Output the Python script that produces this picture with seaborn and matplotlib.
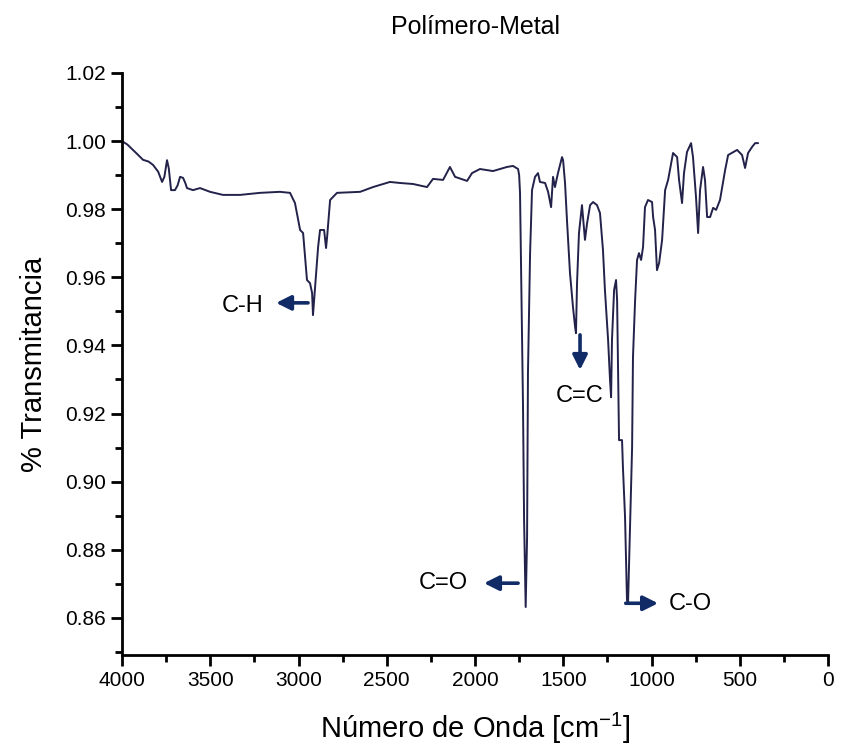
import matplotlib
matplotlib.use("Agg")
import matplotlib.pyplot as plt
from matplotlib.ticker import MultipleLocator, FormatStrFormatter
import seaborn as sns
import pandas as pd

# FTIR spectrum of the polymer-metal sample (wavenumber in cm^-1, fractional transmittance)
wavenumber = [
    4000, 3970, 3938, 3910, 3881, 3850, 3824, 3795, 3773, 3760, 3745, 3735, 3722, 3700,
    3685, 3671, 3654, 3640, 3632, 3598, 3558, 3501, 3428, 3331, 3218, 3105, 3048, 3020,
    2991, 2974, 2952, 2935, 2923, 2918, 2906, 2889, 2878, 2855, 2844, 2838, 2821, 2782,
    2651, 2578, 2482, 2425, 2351, 2272, 2238, 2181, 2142, 2113, 2045, 2017, 1972, 1898,
    1819, 1785, 1756, 1750, 1745, 1739, 1728, 1722, 1713, 1705, 1700, 1688, 1677, 1660,
    1643, 1632, 1603, 1586, 1569, 1558, 1547, 1530, 1507, 1501, 1490, 1479, 1462, 1445,
    1433, 1428, 1422, 1411, 1394, 1388, 1377, 1365, 1348, 1331, 1309, 1292, 1275, 1264,
    1246, 1235, 1229, 1224, 1212, 1201, 1195, 1184, 1167, 1162, 1150, 1139, 1133, 1122,
    1110, 1105, 1093, 1082, 1071, 1059, 1048, 1037, 1020, 997, 991, 980, 969, 957,
    940, 923, 906, 878, 855, 844, 827, 816, 799, 776, 765, 748, 736, 725,
    708, 697, 685, 668, 651, 634, 612, 583, 566, 515, 487, 470, 453, 430,
    413, 396,
]
transmittance = [
    1.0000, 0.9990, 0.9974, 0.9960, 0.9945, 0.9940, 0.9930, 0.9910, 0.9880, 0.9895, 0.9944, 0.9920, 0.9856, 0.9856,
    0.9870, 0.9895, 0.9892, 0.9875, 0.9862, 0.9856, 0.9862, 0.9851, 0.9842, 0.9842, 0.9848, 0.9851, 0.9848, 0.9818,
    0.9739, 0.9730, 0.9592, 0.9583, 0.9554, 0.9489, 0.9572, 0.9689, 0.9739, 0.9739, 0.9686, 0.9718, 0.9827, 0.9848,
    0.9851, 0.9865, 0.9880, 0.9877, 0.9874, 0.9865, 0.9889, 0.9886, 0.9924, 0.9895, 0.9883, 0.9906, 0.9918, 0.9912,
    0.9924, 0.9927, 0.9918, 0.9900, 0.9848, 0.9630, 0.9219, 0.8887, 0.8632, 0.8837, 0.9319, 0.9671, 0.9856, 0.9895,
    0.9906, 0.9880, 0.9877, 0.9851, 0.9806, 0.9895, 0.9865, 0.9906, 0.9953, 0.9944, 0.9877, 0.9768, 0.9613, 0.9513,
    0.9454, 0.9436, 0.9583, 0.9730, 0.9812, 0.9777, 0.9710, 0.9759, 0.9812, 0.9821, 0.9812, 0.9789, 0.9680, 0.9563,
    0.9416, 0.9298, 0.9248, 0.9416, 0.9563, 0.9592, 0.9533, 0.9122, 0.9122, 0.9043, 0.8896, 0.8652, 0.8643, 0.8858,
    0.9102, 0.9366, 0.9533, 0.9651, 0.9671, 0.9651, 0.9689, 0.9806, 0.9827, 0.9821, 0.9777, 0.9739, 0.9621, 0.9642,
    0.9710, 0.9856, 0.9886, 0.9965, 0.9953, 0.9886, 0.9818, 0.9906, 0.9968, 0.9994, 0.9953, 0.9836, 0.9730, 0.9856,
    0.9924, 0.9886, 0.9777, 0.9777, 0.9804, 0.9798, 0.9827, 0.9915, 0.9959, 0.9974, 0.9959, 0.9921, 0.9965, 0.9983,
    0.9994, 0.9994,
]

# Band assignments: label, label position, arrow tail, arrow head
band_labels = ["C-H", "C=O", "C=C", "C-O"]
label_xy = [(3314, 0.9516), (2181, 0.8702), (1405, 0.9251), (782, 0.8640)]
arrow_tail = [(2946, 0.9525), (1756, 0.8702), (1405, 0.9431), (1146, 0.8643)]
arrow_head = [(3127, 0.9525), (1949, 0.8702), (1405, 0.9328), (963, 0.8643)]

x_ticks = [4000, 3500, 3000, 2500, 2000, 1500, 1000, 500, 0]
y_ticks = [0.86, 0.88, 0.90, 0.92, 0.94, 0.96, 0.98, 1.00, 1.02]

sns.set_style("ticks")
plt.rcParams["font.family"] = ["Liberation Sans", "DejaVu Sans"]
plt.rcParams["text.color"] = "black"
plt.rcParams["axes.labelcolor"] = "black"

df = pd.DataFrame({"wn": wavenumber, "T": transmittance})

fig = plt.figure(figsize=(8.42, 7.53), dpi=100)
ax = fig.add_axes([0.1449, 0.1301, 0.8385, 0.7730])

sns.lineplot(data=df, x="wn", y="T", sort=False, color="#22224a", linewidth=1.4, ax=ax)

ax.set_xlim(4000, 0)
ax.set_ylim(0.8491, 1.02)
ax.set_xticks(x_ticks)
ax.set_yticks(y_ticks)
ax.xaxis.set_minor_locator(MultipleLocator(250))
ax.yaxis.set_minor_locator(MultipleLocator(0.01))
ax.yaxis.set_major_formatter(FormatStrFormatter("%.2f"))

for side in ("top", "right"):
    ax.spines[side].set_visible(False)
for side in ("left", "bottom"):
    ax.spines[side].set_linewidth(2.0)
    ax.spines[side].set_color("black")
ax.tick_params(axis="both", which="major", length=8, width=2, labelsize=15,
               colors="black", labelcolor="black")
ax.tick_params(axis="both", which="minor", length=5, width=2, colors="black")

ax.set_title("Polímero-Metal", fontsize=18, pad=28, color="black")
ax.set_xlabel("Número de Onda [cm$^{\\mathregular{-1}}$]", fontsize=21, labelpad=15, color="black")
ax.set_ylabel("% Transmitancia", fontsize=21, labelpad=12, color="black")

arrow_color = "#102b66"
for lab, lxy, tail, head in zip(band_labels, label_xy, arrow_tail, arrow_head):
    ax.annotate("", xy=head, xytext=tail,
                arrowprops=dict(arrowstyle="-|>", color=arrow_color, lw=2.6,
                                mutation_scale=22, shrinkA=0, shrinkB=0))
    ax.text(lxy[0], lxy[1], lab, fontsize=17, ha="center", va="center", color="black")

fig.savefig("out.png", dpi=100)
